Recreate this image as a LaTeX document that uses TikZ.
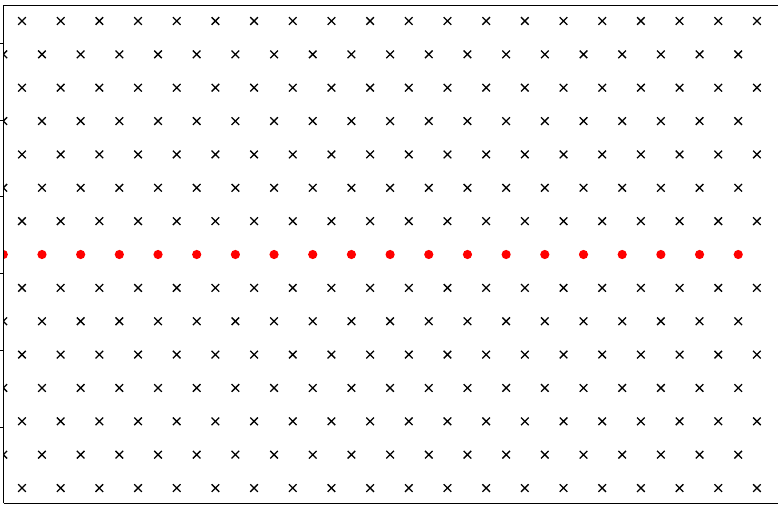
\documentclass[tikz,border=0pt]{standalone}
\begin{document}
\begin{tikzpicture}[x=1pt,y=-1pt,
  axisline/.style={line width=0.9pt, black},
  crossmark/.style={line width=1.3pt, black},
  dotmark/.style={fill=red, draw=none}]
\useasboundingbox (0,0) rectangle (778,505);
\fill[white] (0,0) rectangle (778,505);
\begin{scope}
\clip (3.5,5) rectangle (778,503);
% even rows
\foreach \r in {0,2,4,6,8,10,12,14} {
  \foreach \k in {0,...,19} {
    \pgfmathsetmacro{\cx}{22+\k*38.68}
    \pgfmathsetmacro{\cy}{21+\r*33.36}
    \draw[crossmark] (\cx-3.8,\cy-3.8) -- (\cx+3.8,\cy+3.8)
                     (\cx-3.8,\cy+3.8) -- (\cx+3.8,\cy-3.8);
  }
}
% odd rows (except the dot row)
\foreach \r in {1,3,5,9,11,13} {
  \foreach \k in {0,...,19} {
    \pgfmathsetmacro{\cx}{3.3+\k*38.68}
    \pgfmathsetmacro{\cy}{21+\r*33.36}
    \draw[crossmark] (\cx-3.8,\cy-3.8) -- (\cx+3.8,\cy+3.8)
                     (\cx-3.8,\cy+3.8) -- (\cx+3.8,\cy-3.8);
  }
}
% red dot row
\foreach \k in {0,...,19} {
  \pgfmathsetmacro{\cx}{3.3+\k*38.68}
  \fill[dotmark] (\cx,254.5) circle (4.6);
}
\end{scope}
% axes
\draw[axisline] (3.5,503) -- (3.5,5) -- (778,5);
\draw[axisline] (3.5,503) -- (778,503);
\foreach \t in {0,...,5} {
  \draw[axisline] (0,43.5+\t*76.7) -- (3.5,43.5+\t*76.7);
}
\end{tikzpicture}
\end{document}
